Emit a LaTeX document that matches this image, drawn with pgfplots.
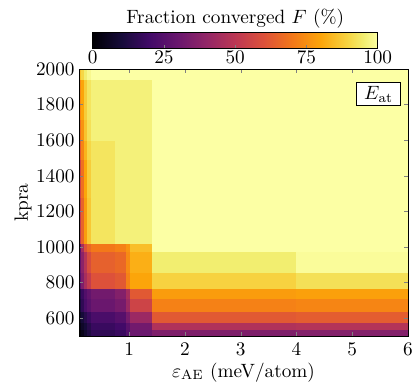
\documentclass[border=0pt]{standalone}
\usepackage{pgfplots}
\pgfplotsset{compat=1.18}
\begin{document}
\begin{tikzpicture}
\useasboundingbox (0,0) rectangle (215.28pt,199.16pt);
\begin{axis}[
  at={(41.08pt,24.44pt)}, anchor=south west,
  scale only axis, width=171.1pt, height=138.8pt,
  xmin=0.1, xmax=6, ymin=500, ymax=2000,
  xtick={1,2,3,4,5,6}, ytick={600,800,1000,1200,1400,1600,1800,2000},
  /pgf/number format/1000 sep={},
  tick align=inside, xtick pos=both, ytick pos=both,
  major tick length=1.9pt,
  yticklabel style={xshift=1.2pt},
  xlabel={$\varepsilon_{\mathrm{AE}}$ (meV/atom)},
  xlabel style={yshift=3pt},
  ylabel={kpra},
  ylabel shift=-4.5pt,
  axis on top,
  colormap={inferno}{rgb255(0pt)=(0,0,4) rgb255(10pt)=(22,11,57) rgb255(20pt)=(66,10,104) rgb255(30pt)=(106,23,110) rgb255(40pt)=(147,38,103) rgb255(50pt)=(188,55,84) rgb255(60pt)=(221,81,58) rgb255(70pt)=(243,120,25) rgb255(80pt)=(252,165,10) rgb255(90pt)=(246,215,70) rgb255(95pt)=(242,238,112) rgb255(100pt)=(252,255,164)},
  point meta min=0, point meta max=100,
  colorbar horizontal,
  colorbar style={
    at={(parent axis.north west)}, anchor=south west,
    xshift=7.12pt, yshift=19.08pt,
    scale only axis, width=148.2pt, height=8.32pt,
    xtick={0,25,50,75,100},
    xtick pos=left, xticklabel pos=left,
    tick align=inside, major tick length=1.9pt,
    xticklabel style={yshift=2.2pt},
    title={Fraction converged $F$ (\%)},
    every axis title/.style={at={(0.5,1)}, anchor=base, yshift=4.6pt},
  },
]
\addplot[surf, shader=flat corner, mesh/rows=15, mesh/cols=12, point meta=explicit]
table[x=x, y=y, meta=F] {
x y F
0.1 500 1
0.14 500 4
0.19 500 8
0.25 500 12
0.32 500 16
0.75 500 18
0.95 500 24
1.03 500 30
1.42 500 35
2.4 500 35
4.0 500 36
6.0 500 36
0.1 535 3
0.14 535 7
0.19 535 10
0.25 535 14
0.32 535 18
0.75 535 20
0.95 535 26
1.03 535 32
1.42 535 47
2.4 535 47
4.0 535 48
6.0 535 48
0.1 575 6
0.14 575 10
0.19 575 14
0.25 575 18
0.32 575 22
0.75 575 25
0.95 575 33
1.03 575 42
1.42 575 62
2.4 575 62
4.0 575 63
6.0 575 63
0.1 640 10
0.14 640 16
0.19 640 22
0.25 640 26
0.32 640 30
0.75 640 33
0.95 640 42
1.03 640 55
1.42 640 72
2.4 640 72
4.0 640 73
6.0 640 73
0.1 710 12
0.14 710 18
0.19 710 24
0.25 710 28
0.32 710 32
0.75 710 36
0.95 710 45
1.03 710 62
1.42 710 78
2.4 710 78
4.0 710 79
6.0 710 79
0.1 770 25
0.14 770 35
0.19 770 45
0.25 770 52
0.32 770 60
0.75 770 62
0.95 770 72
1.03 770 80
1.42 770 89
2.4 770 89
4.0 770 92
6.0 770 92
0.1 860 28
0.14 860 38
0.19 860 48
0.25 860 58
0.32 860 64
0.75 860 66
0.95 860 74
1.03 860 82
1.42 860 95
2.4 860 95
4.0 860 99
6.0 860 99
0.1 975 25
0.14 975 45
0.19 975 60
0.25 975 66
0.32 975 70
0.75 975 72
0.95 975 76
1.03 975 85
1.42 975 100
2.4 975 100
4.0 975 100
6.0 975 100
0.1 1020 52
0.14 1020 65
0.19 1020 78
0.25 1020 87
0.32 1020 93
0.75 1020 96
0.95 1020 96
1.03 1020 96
1.42 1020 100
2.4 1020 100
4.0 1020 100
6.0 1020 100
0.1 1280 56
0.14 1280 68
0.19 1280 80
0.25 1280 88
0.32 1280 93
0.75 1280 96
0.95 1280 96
1.03 1280 96
1.42 1280 100
2.4 1280 100
4.0 1280 100
6.0 1280 100
0.1 1490 62
0.14 1490 73
0.19 1490 83
0.25 1490 90
0.32 1490 93
0.75 1490 96
0.95 1490 96
1.03 1490 96
1.42 1490 100
2.4 1490 100
4.0 1490 100
6.0 1490 100
0.1 1600 68
0.14 1600 76
0.19 1600 86
0.25 1600 92
0.32 1600 96
0.75 1600 96
0.95 1600 96
1.03 1600 96
1.42 1600 100
2.4 1600 100
4.0 1600 100
6.0 1600 100
0.1 1720 74
0.14 1720 80
0.19 1720 88
0.25 1720 93
0.32 1720 96
0.75 1720 96
0.95 1720 96
1.03 1720 96
1.42 1720 100
2.4 1720 100
4.0 1720 100
6.0 1720 100
0.1 1940 86
0.14 1940 90
0.19 1940 95
0.25 1940 98
0.32 1940 100
0.75 1940 100
0.95 1940 100
1.03 1940 100
1.42 1940 100
2.4 1940 100
4.0 1940 100
6.0 1940 100
0.1 2000 86
0.14 2000 90
0.19 2000 95
0.25 2000 98
0.32 2000 100
0.75 2000 100
0.95 2000 100
1.03 2000 100
1.42 2000 100
2.4 2000 100
4.0 2000 100
6.0 2000 100
};
\node[draw=black, fill=white, line width=0.4pt, anchor=north east, inner sep=0pt,
  minimum width=22.9pt, minimum height=12pt, xshift=-3.64pt, yshift=-6.76pt]
  at (rel axis cs:1,1) {$E_{\mathrm{at}}$};
\end{axis}
\end{tikzpicture}
\end{document}
